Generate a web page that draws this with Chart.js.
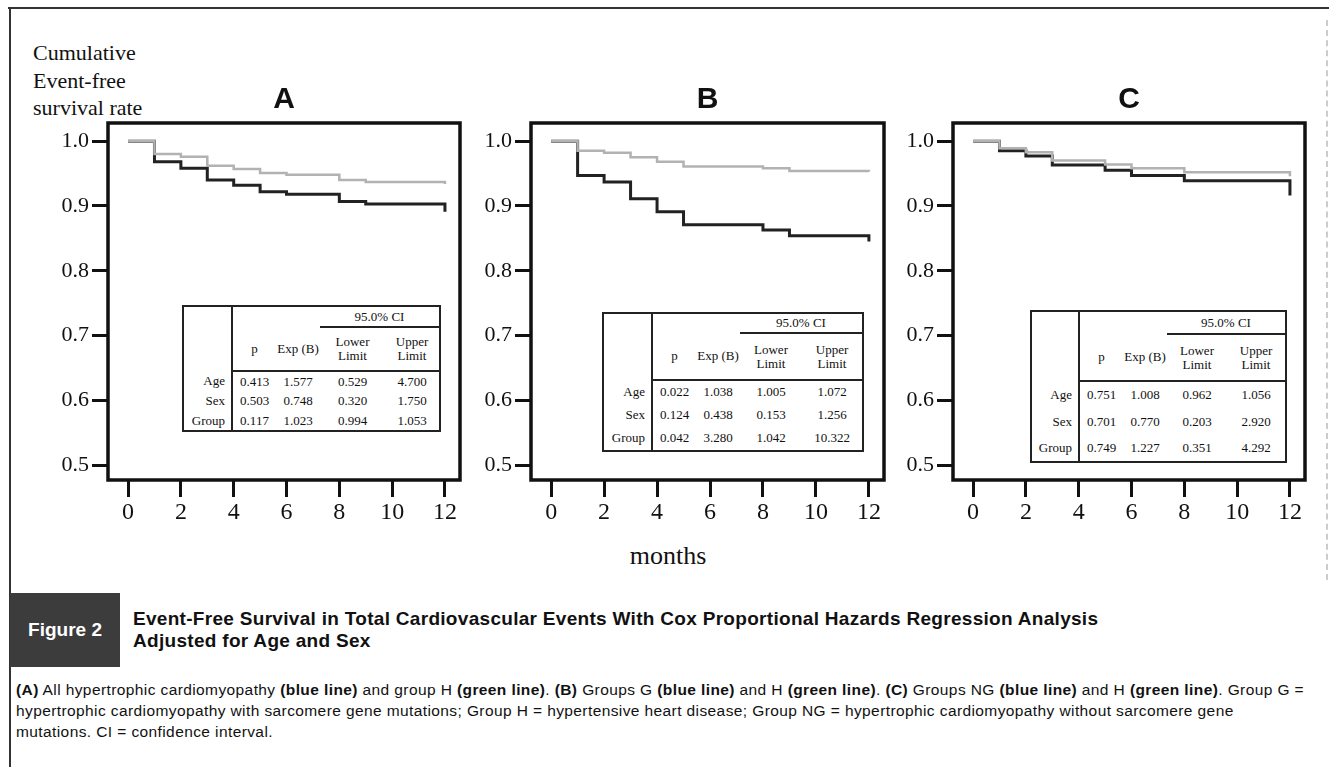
<!DOCTYPE html>
<html>
<head>
<meta charset="utf-8">
<script src="https://cdn.jsdelivr.net/npm/chart.js"></script>
<style>
  body { margin: 0; width: 1329px; height: 767px; background: #fff; position: relative; overflow: hidden; font-family: "Liberation Serif", serif; color: #111; }
  canvas { position: absolute; top: 80px; }
  .frameTop { position: absolute; left: 8px; top: 7px; width: 1321px; height: 0; border-top: 2px solid #333; }
  .frameLeft { position: absolute; left: 9px; top: 7px; width: 0; height: 760px; border-left: 2px solid #333; }
  .frameRight { position: absolute; left: 1326px; top: 20px; width: 0; height: 560px; border-left: 2px dashed #ccc; }
  .ytitle { position: absolute; left: 33px; top: 39px; font-size: 22px; line-height: 27.5px; white-space: nowrap; }
  .xtitle { position: absolute; left: 568px; width: 200px; top: 541px; text-align: center; font-size: 26px; }
  .figbox { position: absolute; left: 10px; top: 593px; width: 110px; height: 74px; background: #3c3c3c; color: #fff;
            font-family: "Liberation Sans", sans-serif; font-weight: bold; font-size: 19px; line-height: 74px; text-align: center; }
  .figtitle { position: absolute; left: 133px; top: 608px; font-family: "Liberation Sans", sans-serif; font-weight: bold;
              font-size: 19px; line-height: 22px; white-space: nowrap; letter-spacing: 0.3px; }
  .caption { position: absolute; left: 16px; top: 679px; font-family: "Liberation Sans", sans-serif; font-size: 15.5px;
             line-height: 21px; white-space: nowrap; letter-spacing: 0.4px; }
  table.cox { position: absolute; border-collapse: collapse; table-layout: fixed; background: #fff; border: 2px solid #222;
              font-family: "Liberation Serif", serif; font-size: 13px; }
  table.cox td { padding: 0; text-align: center; vertical-align: middle; line-height: 14px; }
  table.cox td.lab { border-right: 2px solid #222; text-align: right; padding-right: 6px; }
  table.cox td.ci { border-bottom: 2px solid #222; }
  table.cox tr.hdr td { border-bottom: 2px solid #222; }
</style>
</head>
<body>
<div class="frameTop"></div>
<div class="frameLeft"></div>
<div class="frameRight"></div>
<div class="ytitle">Cumulative<br>Event-free<br>survival rate</div>

<canvas id="chartA" width="432" height="450" style="left:38px"></canvas>
<canvas id="chartB" width="433" height="450" style="left:461px"></canvas>
<canvas id="chartC" width="432" height="450" style="left:883px"></canvas>

<div class="xtitle">months</div>

<div class="figbox">Figure 2</div>
<div class="figtitle">Event-Free Survival in Total Cardiovascular Events With Cox Proportional Hazards Regression Analysis<br>Adjusted for Age and Sex</div>
<div class="caption"><b>(A)</b> All hypertrophic cardiomyopathy <b>(blue line)</b> and group H <b>(green line)</b>. <b>(B)</b> Groups G <b>(blue line)</b> and H <b>(green line)</b>. <b>(C)</b> Groups NG <b>(blue line)</b> and H <b>(green line)</b>. Group G =<br>hypertrophic cardiomyopathy with sarcomere gene mutations; Group H = hypertensive heart disease; Group NG = hypertrophic cardiomyopathy without sarcomere gene<br>mutations. CI = confidence interval.</div>

<script>
  // axis ticks
  const months = [0, 2, 4, 6, 8, 10, 12];
  const rates = [0.5, 0.6, 0.7, 0.8, 0.9, 1.0];

  // A: all HCM (blue line, drawn dark) vs group H (green line, drawn gray)
  const blueTimesA = [0, 1, 2, 3, 4, 5, 6, 8, 9, 12, 12];
  const blueSurvA = [1.0, 0.968, 0.958, 0.940, 0.932, 0.922, 0.918, 0.907, 0.903, 0.903, 0.891];
  const greenTimesA = [0, 1, 2, 3, 4, 5, 6, 8, 9, 12, 12];
  const greenSurvA = [1.0, 0.980, 0.976, 0.962, 0.957, 0.951, 0.948, 0.940, 0.937, 0.937, 0.934];

  // B: group G vs group H
  const blueTimesB = [0, 1, 2, 3, 4, 5, 8, 9, 12, 12];
  const blueSurvB = [1.0, 0.947, 0.937, 0.911, 0.891, 0.871, 0.863, 0.854, 0.854, 0.845];
  const greenTimesB = [0, 1, 2, 3, 4, 5, 8, 9, 12];
  const greenSurvB = [1.0, 0.985, 0.982, 0.975, 0.968, 0.961, 0.958, 0.954, 0.953];

  // C: group NG vs group H
  const blueTimesC = [0, 1, 2, 3, 5, 6, 8, 12, 12];
  const blueSurvC = [1.0, 0.985, 0.977, 0.963, 0.955, 0.947, 0.939, 0.939, 0.916];
  const greenTimesC = [0, 1, 2, 3, 5, 6, 8, 12, 12];
  const greenSurvC = [1.0, 0.989, 0.983, 0.970, 0.964, 0.958, 0.952, 0.952, 0.946];

  // Cox regression tables
  const coxRows = ["Age", "Sex", "Group"];
  const coxA = [["0.413", "1.577", "0.529", "4.700"], ["0.503", "0.748", "0.320", "1.750"], ["0.117", "1.023", "0.994", "1.053"]];
  const coxB = [["0.022", "1.038", "1.005", "1.072"], ["0.124", "0.438", "0.153", "1.256"], ["0.042", "3.280", "1.042", "10.322"]];
  const coxC = [["0.751", "1.008", "0.962", "1.056"], ["0.701", "0.770", "0.203", "2.920"], ["0.749", "1.227", "0.351", "4.292"]];

  const framePlugin = {
    id: "frame",
    afterDatasetsDraw(chart) {
      const { ctx, chartArea: a } = chart;
      ctx.save();
      ctx.lineWidth = 3.5;
      ctx.strokeStyle = "#111";
      ctx.strokeRect(a.left, a.top, a.right - a.left, a.bottom - a.top);
      ctx.restore();
    }
  };

  function pts(t, s) { return t.map((x, i) => ({ x: x, y: s[i] })); }

  function makeChart(id, letter, bt, bs, gt, gs) {
    new Chart(document.getElementById(id), {
      type: "line",
      data: {
        datasets: [
          { data: pts(gt, gs), stepped: true, borderColor: "#b2b2b2", borderWidth: 2.5, pointRadius: 0, fill: false },
          { data: pts(bt, bs), stepped: true, borderColor: "#222", borderWidth: 3, pointRadius: 0, fill: false }
        ]
      },
      options: {
        responsive: false,
        animation: false,
        layout: { padding: { top: 0, right: 10, bottom: 0, left: 0 } },
        plugins: {
          legend: { display: false },
          tooltip: { enabled: false },
          title: {
            display: true, text: letter, fullSize: false, color: "#111",
            font: { family: "Liberation Sans", weight: "bold", size: 30 },
            padding: { top: 2, bottom: 5 }
          }
        },
        scales: {
          x: {
            type: "linear", min: -0.76, max: 12.57,
            afterBuildTicks: s => { s.ticks = months.map(v => ({ value: v })); },
            afterFit: s => { s.height = 50; s.paddingLeft = 0; s.paddingRight = 0; },
            border: { display: false },
            grid: { drawOnChartArea: false, drawTicks: true, tickLength: 17, tickWidth: 3, tickColor: "#111" },
            ticks: { color: "#111", padding: 1, maxRotation: 0, autoSkip: false, font: { family: "Liberation Serif", size: 24 } }
          },
          y: {
            min: 0.477, max: 1.028,
            afterBuildTicks: s => { s.ticks = rates.map(v => ({ value: v })); },
            afterFit: s => { s.width = 70; s.paddingTop = 0; s.paddingBottom = 0; },
            border: { display: false },
            grid: { drawOnChartArea: false, drawTicks: true, tickLength: 16, tickWidth: 3, tickColor: "#111" },
            ticks: { color: "#111", padding: 3, font: { family: "Liberation Serif", size: 22 }, callback: v => v.toFixed(1) }
          }
        }
      },
      plugins: [framePlugin]
    });
  }

  makeChart("chartA", "A", blueTimesA, blueSurvA, greenTimesA, greenSurvA);
  makeChart("chartB", "B", blueTimesB, blueSurvB, greenTimesB, greenSurvB);
  makeChart("chartC", "C", blueTimesC, blueSurvC, greenTimesC, greenSurvC);

  function buildTable(rows, box) {
    const t = document.createElement("table");
    t.className = "cox";
    t.style.left = box.left + "px";
    t.style.top = box.top + "px";
    t.style.width = box.cols.reduce((a, b) => a + b, 0) + "px";
    let html = "<colgroup>" + box.cols.map(w => '<col style="width:' + w + 'px">').join("") + "</colgroup>";
    html += '<tr style="height:' + box.h1 + 'px"><td class="lab" rowspan="2"></td><td></td><td></td><td class="ci" colspan="2">95.0% CI</td></tr>';
    html += '<tr class="hdr" style="height:' + box.h2 + 'px"><td style="border-bottom:2px solid #222">p</td><td>Exp (B)</td><td>Lower<br>Limit</td><td>Upper<br>Limit</td></tr>';
    rows.forEach((r, i) => {
      html += '<tr style="height:' + box.rowH + 'px"><td class="lab">' + coxRows[i] + "</td>" + r.map(v => "<td>" + v + "</td>").join("") + "</tr>";
    });
    t.innerHTML = html;
    document.body.appendChild(t);
  }

  buildTable(coxA, { left: 182, top: 305, cols: [49, 44, 44, 65, 55], h1: 21, h2: 44, rowH: 20 });
  buildTable(coxB, { left: 602, top: 312, cols: [49, 44, 44, 62, 61], h1: 20, h2: 47, rowH: 23.5 });
  buildTable(coxC, { left: 1030, top: 310, cols: [48, 44, 44, 60, 59], h1: 23, h2: 47, rowH: 27 });
</script>
</body>
</html>
